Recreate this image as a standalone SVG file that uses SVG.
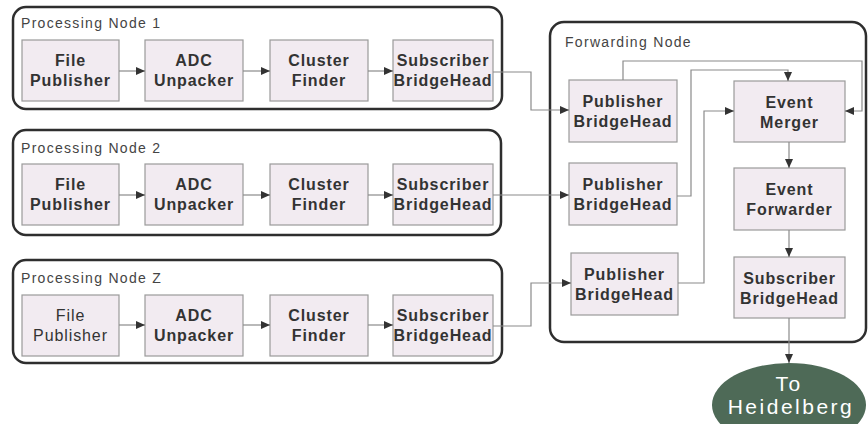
<svg xmlns="http://www.w3.org/2000/svg" width="868" height="424" viewBox="0 0 868 424">
  <style>
    .bg { fill: #ffffff; }
    .container { fill: #ffffff; stroke: #2e2e2e; stroke-width: 2.5; }
    .title { font-family: "Liberation Sans", Arial, sans-serif; font-size: 14px; fill: #444444; letter-spacing: 1.3px; }
    .box { fill: #f2ebf1; stroke: #9a9a9a; stroke-width: 1.2; }
    .lbl { font-family: "Liberation Sans", Arial, sans-serif; font-size: 16px; font-weight: bold; fill: #333333; text-anchor: middle; letter-spacing: 0.9px; }
    .lbl.thin { font-weight: normal; }
    .wire { fill: none; stroke: #8a8a8a; stroke-width: 1.2; }
    .dest { fill: #4e6a57; }
    .dlbl { font-family: "Liberation Sans", Arial, sans-serif; font-size: 21px; fill: #ffffff; text-anchor: middle; letter-spacing: 2.5px; }
  </style>
  <defs>
    <marker id="arr" markerUnits="userSpaceOnUse" markerWidth="10" markerHeight="9" refX="9" refY="4" orient="auto">
      <path d="M0,0 L9,4 L0,8 z" fill="#333333"/>
    </marker>
  </defs>

  <rect class="bg" x="0" y="0" width="868" height="424"/>

  <!-- Processing Node 1 -->
  <g id="processing-node-1">
    <rect class="container" x="13" y="7" width="489" height="102" rx="13"/>
    <text class="title" x="21" y="28">Processing Node 1</text>
  </g>
  <g id="pn1-file-publisher">
    <rect class="box" x="22" y="40" width="97" height="61"/>
    <text class="lbl" x="70.5" y="66">File</text>
    <text class="lbl" x="70.5" y="86">Publisher</text>
  </g>
  <g id="pn1-adc-unpacker">
    <rect class="box" x="145" y="40" width="98" height="61"/>
    <text class="lbl" x="194" y="66">ADC</text>
    <text class="lbl" x="194" y="86">Unpacker</text>
  </g>
  <g id="pn1-cluster-finder">
    <rect class="box" x="270" y="40" width="98" height="61"/>
    <text class="lbl" x="319" y="66">Cluster</text>
    <text class="lbl" x="319" y="86">Finder</text>
  </g>
  <g id="pn1-subscriber-bridgehead">
    <rect class="box" x="393" y="40" width="100" height="61"/>
    <text class="lbl" x="443" y="66">Subscriber</text>
    <text class="lbl" x="443" y="86">BridgeHead</text>
  </g>

  <!-- Processing Node 2 -->
  <g id="processing-node-2">
    <rect class="container" x="13" y="130" width="488" height="105" rx="13"/>
    <text class="title" x="21" y="153">Processing Node 2</text>
  </g>
  <g id="pn2-file-publisher">
    <rect class="box" x="22" y="164" width="97" height="61"/>
    <text class="lbl" x="70.5" y="190">File</text>
    <text class="lbl" x="70.5" y="210">Publisher</text>
  </g>
  <g id="pn2-adc-unpacker">
    <rect class="box" x="145" y="164" width="98" height="61"/>
    <text class="lbl" x="194" y="190">ADC</text>
    <text class="lbl" x="194" y="210">Unpacker</text>
  </g>
  <g id="pn2-cluster-finder">
    <rect class="box" x="270" y="164" width="98" height="61"/>
    <text class="lbl" x="319" y="190">Cluster</text>
    <text class="lbl" x="319" y="210">Finder</text>
  </g>
  <g id="pn2-subscriber-bridgehead">
    <rect class="box" x="393" y="164" width="100" height="61"/>
    <text class="lbl" x="443" y="190">Subscriber</text>
    <text class="lbl" x="443" y="210">BridgeHead</text>
  </g>

  <!-- Processing Node Z -->
  <g id="processing-node-z">
    <rect class="container" x="13" y="260" width="489" height="103" rx="13"/>
    <text class="title" x="21" y="283">Processing Node Z</text>
  </g>
  <g id="pnz-file-publisher">
    <rect class="box" x="22" y="295" width="97" height="61"/>
    <text class="lbl thin" x="70.5" y="321">File</text>
    <text class="lbl thin" x="70.5" y="341">Publisher</text>
  </g>
  <g id="pnz-adc-unpacker">
    <rect class="box" x="145" y="295" width="98" height="61"/>
    <text class="lbl" x="194" y="321">ADC</text>
    <text class="lbl" x="194" y="341">Unpacker</text>
  </g>
  <g id="pnz-cluster-finder">
    <rect class="box" x="270" y="295" width="98" height="61"/>
    <text class="lbl" x="319" y="321">Cluster</text>
    <text class="lbl" x="319" y="341">Finder</text>
  </g>
  <g id="pnz-subscriber-bridgehead">
    <rect class="box" x="393" y="295" width="100" height="61"/>
    <text class="lbl" x="443" y="321">Subscriber</text>
    <text class="lbl" x="443" y="341">BridgeHead</text>
  </g>

  <!-- Forwarding Node -->
  <g id="forwarding-node">
    <rect class="container" x="550" y="22" width="316" height="320" rx="14"/>
    <text class="title" x="565" y="47">Forwarding Node</text>
  </g>
  <g id="fn-publisher-bridgehead-1">
    <rect class="box" x="569" y="80" width="108" height="62"/>
    <text class="lbl" x="623" y="107">Publisher</text>
    <text class="lbl" x="623" y="127">BridgeHead</text>
  </g>
  <g id="fn-publisher-bridgehead-2">
    <rect class="box" x="569" y="163" width="108" height="62"/>
    <text class="lbl" x="623" y="190">Publisher</text>
    <text class="lbl" x="623" y="210">BridgeHead</text>
  </g>
  <g id="fn-publisher-bridgehead-3">
    <rect class="box" x="571" y="253" width="107" height="62"/>
    <text class="lbl" x="624.5" y="280">Publisher</text>
    <text class="lbl" x="624.5" y="300">BridgeHead</text>
  </g>
  <g id="fn-event-merger">
    <rect class="box" x="734" y="81" width="111" height="61"/>
    <text class="lbl" x="789.5" y="108">Event</text>
    <text class="lbl" x="789.5" y="128">Merger</text>
  </g>
  <g id="fn-event-forwarder">
    <rect class="box" x="734" y="168" width="111" height="62"/>
    <text class="lbl" x="789.5" y="195">Event</text>
    <text class="lbl" x="789.5" y="215">Forwarder</text>
  </g>
  <g id="fn-subscriber-bridgehead">
    <rect class="box" x="734" y="257" width="111" height="61"/>
    <text class="lbl" x="789.5" y="284">Subscriber</text>
    <text class="lbl" x="789.5" y="304">BridgeHead</text>
  </g>

  <!-- Destination -->
  <g id="to-heidelberg">
    <ellipse class="dest" cx="789" cy="405" rx="77" ry="42"/>
    <text class="dlbl" x="789" y="391">To</text>
    <text class="dlbl" x="791" y="414">Heidelberg</text>
  </g>

  <!-- Connectors -->
  <g id="connectors">
    <!-- inside processing nodes -->
    <path class="wire" marker-end="url(#arr)" d="M119,71 H145"/>
    <path class="wire" marker-end="url(#arr)" d="M243,71 H270"/>
    <path class="wire" marker-end="url(#arr)" d="M368,71 H393"/>
    <path class="wire" marker-end="url(#arr)" d="M119,195 H145"/>
    <path class="wire" marker-end="url(#arr)" d="M243,195 H270"/>
    <path class="wire" marker-end="url(#arr)" d="M368,195 H393"/>
    <path class="wire" marker-end="url(#arr)" d="M119,325 H145"/>
    <path class="wire" marker-end="url(#arr)" d="M243,325 H270"/>
    <path class="wire" marker-end="url(#arr)" d="M368,325 H393"/>
    <!-- processing nodes to forwarding node -->
    <path class="wire" marker-end="url(#arr)" d="M493,72 H531 V110 H569"/>
    <path class="wire" marker-end="url(#arr)" d="M493,195 H569"/>
    <path class="wire" marker-end="url(#arr)" d="M493,326 H531 V283 H571"/>
    <!-- publisher bridgeheads to event merger -->
    <path class="wire" marker-end="url(#arr)" d="M623,80 V61 H862 V111 H845"/>
    <path class="wire" marker-end="url(#arr)" d="M677,196 H691 V70 H788 V81"/>
    <path class="wire" marker-end="url(#arr)" d="M678,283 H704 V111 H734"/>
    <!-- forwarding chain -->
    <path class="wire" marker-end="url(#arr)" d="M789,142 V168"/>
    <path class="wire" marker-end="url(#arr)" d="M789,230 V257"/>
    <path class="wire" marker-end="url(#arr)" d="M789,318 V363"/>
  </g>
</svg>
